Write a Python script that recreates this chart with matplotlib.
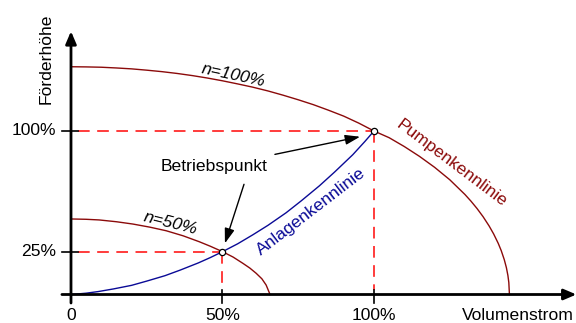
#!/usr/bin/env python3

import matplotlib
matplotlib.use("Agg")
import matplotlib.pyplot as plt

plt.rcParams['font.family'] = ['Liberation Sans', 'DejaVu Sans']

# pump curve at full speed (flow %, head %)
q_n100 = [0, 5, 10, 15, 20, 25, 30, 35, 40, 45, 50, 55, 60, 65, 70, 75, 80,
          85, 90, 95, 100, 105, 110, 115, 120, 125, 130, 132, 134, 136, 138,
          139.5, 141, 142, 143, 143.7, 144.2, 144.5, 144.7]
h_n100 = [139.3, 139.2, 139.0, 138.55, 138.0, 137.2, 136.3, 135.2, 133.9, 132.4,
          130.7, 128.8, 126.8, 124.5, 121.9, 119.1, 116.1, 112.7, 109.1, 104.8,
          100, 95.9, 90.5, 84.5, 77.8, 70.2, 61.2, 57.1, 52.6, 47.6, 41.9,
          37.0, 31.3, 26.8, 21.3, 16.4, 11.6, 7.3, 0]

# pump curve at half speed
q_n50 = [0, 5, 9.3, 15, 20.4, 26, 31.4, 37, 42.3, 46, 50, 53.5, 56.7, 59,
         61.1, 63, 64.4, 65.7]
h_n50 = [46.2, 46.0, 45.6, 44.5, 43.1, 41.2, 39.0, 35.9, 32.3, 29.5, 26.2,
         22.9, 19.1, 16.2, 13.0, 9.6, 5.8, 0]

# system curve
q_sys = [0, 5, 9, 14, 20, 25, 31, 36, 42, 46, 50, 55, 60, 65, 71, 76, 82,
         87, 93, 97, 100]
h_sys = [0, 0.8, 1.8, 3.4, 5.6, 8.2, 11.5, 14.9, 19.3, 22.6, 26.2, 31.0,
         36.5, 42.3, 50.0, 57.3, 66.5, 74.9, 85.5, 93.6, 100]

# operating points
op_q = [100, 50]
op_h = [100, 26.2]

x_ticks = [0, 50, 100]
x_labels = ["0", "50%", "100%"]
y_ticks = [100, 26.2]
y_labels = ["100%", "25%"]

PUMP = '#8b0a0a'
SYS = '#0a0a96'
DASH = '#ff1a1a'
FS = 12.6


def main():
    fig = plt.figure(figsize=(5.76, 3.23), dpi=100)
    ax = fig.add_axes([0, 0, 1, 1])
    ax.set_xlim(-23.43, 166.67)
    ax.set_ylim(-17.43, 180.12)
    ax.axis('off')

    # dashed guide lines to the operating points
    for q, h in zip(op_q, op_h):
        ax.plot([2.3, q], [h, h], color=DASH, lw=1.2, dashes=(7, 4.5), zorder=2)
        ax.plot([q, q], [h, 2.5], color=DASH, lw=1.2, dashes=(7, 4.5), zorder=2)

    ax.plot(q_n100, h_n100, color=PUMP, lw=1.0, zorder=3)
    ax.plot(q_n50, h_n50, color=PUMP, lw=1.0, zorder=3)
    ax.plot(q_sys, h_sys, color=SYS, lw=1.0, zorder=3)
    ax.plot(op_q, op_h, 'o', ms=4.5, mfc='white', mec='black', mew=0.9, zorder=5)

    # axes with arrow heads
    arrow = dict(arrowstyle='-|>,head_length=0.75,head_width=0.32',
                 lw=2, color='black', shrinkA=0, shrinkB=0)
    ax.annotate('', xy=(0, 161), xytext=(0, -5.2), arrowprops=arrow, zorder=6)
    ax.annotate('', xy=(166.8, 0), xytext=(-3, 0), arrowprops=arrow, zorder=6)

    for q, lab in zip(x_ticks, x_labels):
        if q != 0:
            ax.plot([q, q], [2.8, -5.2], color='black', lw=1.2, zorder=6)
        ax.text(q, -15.5, lab, ha='center', va='baseline', fontsize=FS)
    for h, lab in zip(y_ticks, y_labels):
        ax.plot([-3, 2.3], [h, h], color='black', lw=1.2, zorder=6)
        ax.text(-4.9, h, lab, ha='right', va='center', fontsize=FS)

    ax.text(147.5, -15.5, "Volumenstrom", ha='center', va='baseline', fontsize=FS)
    ax.text(-8.25, 144.1, "Förderhöhe", ha='center', va='center',
            rotation=90, fontsize=FS)

    # curve labels
    ax.text(53.5, 134.2, "n=100%", ha='center', va='center', rotation=-12,
            fontsize=FS, style='italic')
    ax.text(32.7, 43.7, "n=50%", ha='center', va='center', rotation=-14,
            fontsize=FS, style='italic')
    ax.text(125.6, 80.2, "Pumpenkennlinie", ha='center', va='center',
            rotation=-37, fontsize=FS, color=PUMP)
    ax.text(79.1, 50.6, "Anlagenkennlinie", ha='center', va='center',
            rotation=37.5, fontsize=FS, color=SYS)

    # Betriebspunkt label with arrows
    ax.text(47.2, 78.2, "Betriebspunkt", ha='center', va='center', fontsize=FS)
    small = dict(arrowstyle='-|>,head_length=0.9,head_width=0.3',
                 lw=1.0, color='black', shrinkA=0, shrinkB=0)
    ax.annotate('', xy=(95.4, 96.5), xytext=(67.3, 85.7), arrowprops=small)
    ax.annotate('', xy=(50.8, 31.3), xytext=(57.1, 67.4), arrowprops=small)

    fig.savefig("out.png", dpi=100)


if __name__ == "__main__":
    main()
